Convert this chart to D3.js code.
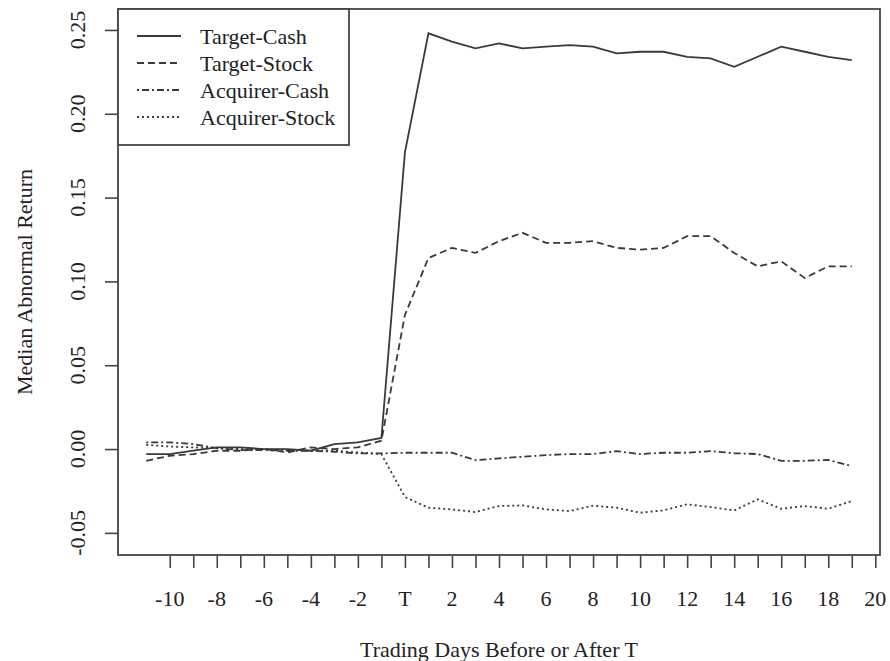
<!DOCTYPE html>
<html>
<head>
<meta charset="utf-8">
<script src="https://cdn.jsdelivr.net/npm/d3@7"></script>
<style>
  body { margin: 0; background: #fff; }
  svg text { font-family: "Liberation Serif", "DejaVu Serif", serif; fill: #222; }
</style>
</head>
<body>
<div id="plot"></div>
<script>
var days = d3.range(-11, 20);

var targetCash = [-0.003, -0.003, -0.001, 0.001, 0.001, 0.000, 0.000, -0.001, 0.003, 0.004, 0.0066,
  0.177, 0.248, 0.243, 0.239, 0.242, 0.239, 0.240, 0.241, 0.240, 0.236, 0.237,
  0.237, 0.234, 0.233, 0.228, 0.234, 0.240, 0.237, 0.234, 0.232];
var targetStock = [-0.007, -0.004, -0.003, -0.001, -0.001, 0.000, -0.002, 0.001, 0.000, 0.001, 0.005,
  0.080, 0.114, 0.120, 0.117, 0.124, 0.129, 0.123, 0.123, 0.124, 0.120, 0.119,
  0.120, 0.127, 0.127, 0.117, 0.109, 0.112, 0.102, 0.109, 0.109];
var acquirerCash = [0.004, 0.004, 0.003, 0.0005, -0.0006, -0.0006, -0.001, -0.001, -0.0016, -0.0026, -0.0026,
  -0.0022, -0.0022, -0.0022, -0.0066, -0.0056, -0.0046, -0.0036, -0.003, -0.003, -0.0012, -0.003,
  -0.0022, -0.0022, -0.0012, -0.0025, -0.003, -0.007, -0.007, -0.0065, -0.0102];
var acquirerStock = [0.0025, 0.0015, 0.001, 0.0005, 0.000, 0.000, -0.0005, -0.001, -0.001, -0.002, -0.003,
  -0.0286, -0.035, -0.036, -0.0376, -0.034, -0.0336, -0.036, -0.037, -0.0338, -0.035, -0.038,
  -0.0366, -0.033, -0.0346, -0.0366, -0.030, -0.0356, -0.034, -0.0356, -0.031];

var seriesNames = ["Target-Cash", "Target-Stock", "Acquirer-Cash", "Acquirer-Stock"];
var seriesValues = [targetCash, targetStock, acquirerCash, acquirerStock];
var dashes = [null, "7,4", "2,3,7,3", "2,3"];

var xTicks = d3.range(-10, 21);
var xLabelTicks = d3.range(-10, 21, 2);
var yTicks = [-0.05, 0, 0.05, 0.10, 0.15, 0.20, 0.25];

var width = 890,
  height = 661;
var boxL = 118, boxR = 880, boxT = 9, boxB = 555;

var svg = d3.select("#plot").append("svg")
  .attr("width", width)
  .attr("height", height)

var xScale = d3.scaleLinear().domain([-12.2, 20.2]).range([boxL, boxR]);
var yScale = d3.scaleLinear().domain([-0.0632, 0.2625]).range([boxB, boxT]);

// x axis (R style, ticks below the box)
svg.append("g")
  .attr("transform", "translate(0," + boxB + ")")
  .call(d3.axisBottom(xScale).tickValues(xTicks).tickSize(13).tickFormat(""))
  .call(g => g.select(".domain").remove())
  .call(g => g.selectAll("line").attr("stroke", "#444").attr("stroke-width", 1.6));

svg.append("g").selectAll("text")
  .data(xLabelTicks)
  .enter().append("text")
  .attr("x", d => xScale(d))
  .attr("y", 606)
  .attr("text-anchor", "middle")
  .attr("font-size", 22)
  .text(d => d === 0 ? "T" : d);

// y axis
svg.append("g")
  .attr("transform", "translate(" + boxL + ",0)")
  .call(d3.axisLeft(yScale).tickValues(yTicks).tickSize(13).tickFormat(""))
  .call(g => g.select(".domain").remove())
  .call(g => g.selectAll("line").attr("stroke", "#444").attr("stroke-width", 1.6));

svg.append("g").selectAll("text")
  .data(yTicks)
  .enter().append("text")
  .attr("transform", d => "translate(85," + yScale(d) + ") rotate(-90)")
  .attr("text-anchor", "middle")
  .attr("font-size", 22)
  .text(d => d.toFixed(2));

// box
svg.append("rect")
  .attr("x", boxL).attr("y", boxT)
  .attr("width", boxR - boxL).attr("height", boxB - boxT)
  .attr("fill", "none").attr("stroke", "#444").attr("stroke-width", 1.8);

// titles
svg.append("text")
  .attr("x", (boxL + boxR) / 2).attr("y", 657)
  .attr("text-anchor", "middle").attr("font-size", 22)
  .text("Trading Days Before or After T");

svg.append("text")
  .attr("transform", "translate(32," + (boxT + boxB) / 2 + ") rotate(-90)")
  .attr("text-anchor", "middle").attr("font-size", 22)
  .text("Median Abnormal Return");

// lines
var line = d3.line()
  .x((d, i) => xScale(days[i]))
  .y(d => yScale(d));

seriesValues.forEach(function (vals, k) {
  svg.append("path")
    .attr("d", line(vals))
    .attr("fill", "none")
    .attr("stroke", "#3a3a3a")
    .attr("stroke-width", 1.8)
    .attr("stroke-dasharray", dashes[k]);
});

// legend
var legend = svg.append("g");
legend.append("rect")
  .attr("x", boxL).attr("y", boxT)
  .attr("width", 231).attr("height", 136)
  .attr("fill", "#fff").attr("stroke", "#444").attr("stroke-width", 1.8);

seriesNames.forEach(function (name, k) {
  var yy = 36 + k * 27;
  legend.append("line")
    .attr("x1", 137).attr("x2", 181)
    .attr("y1", yy).attr("y2", yy)
    .attr("stroke", "#3a3a3a").attr("stroke-width", 1.8)
    .attr("stroke-dasharray", dashes[k]);
  legend.append("text")
    .attr("x", 200).attr("y", yy + 8)
    .attr("font-size", 22)
    .text(name);
});
</script>
</body>
</html>
